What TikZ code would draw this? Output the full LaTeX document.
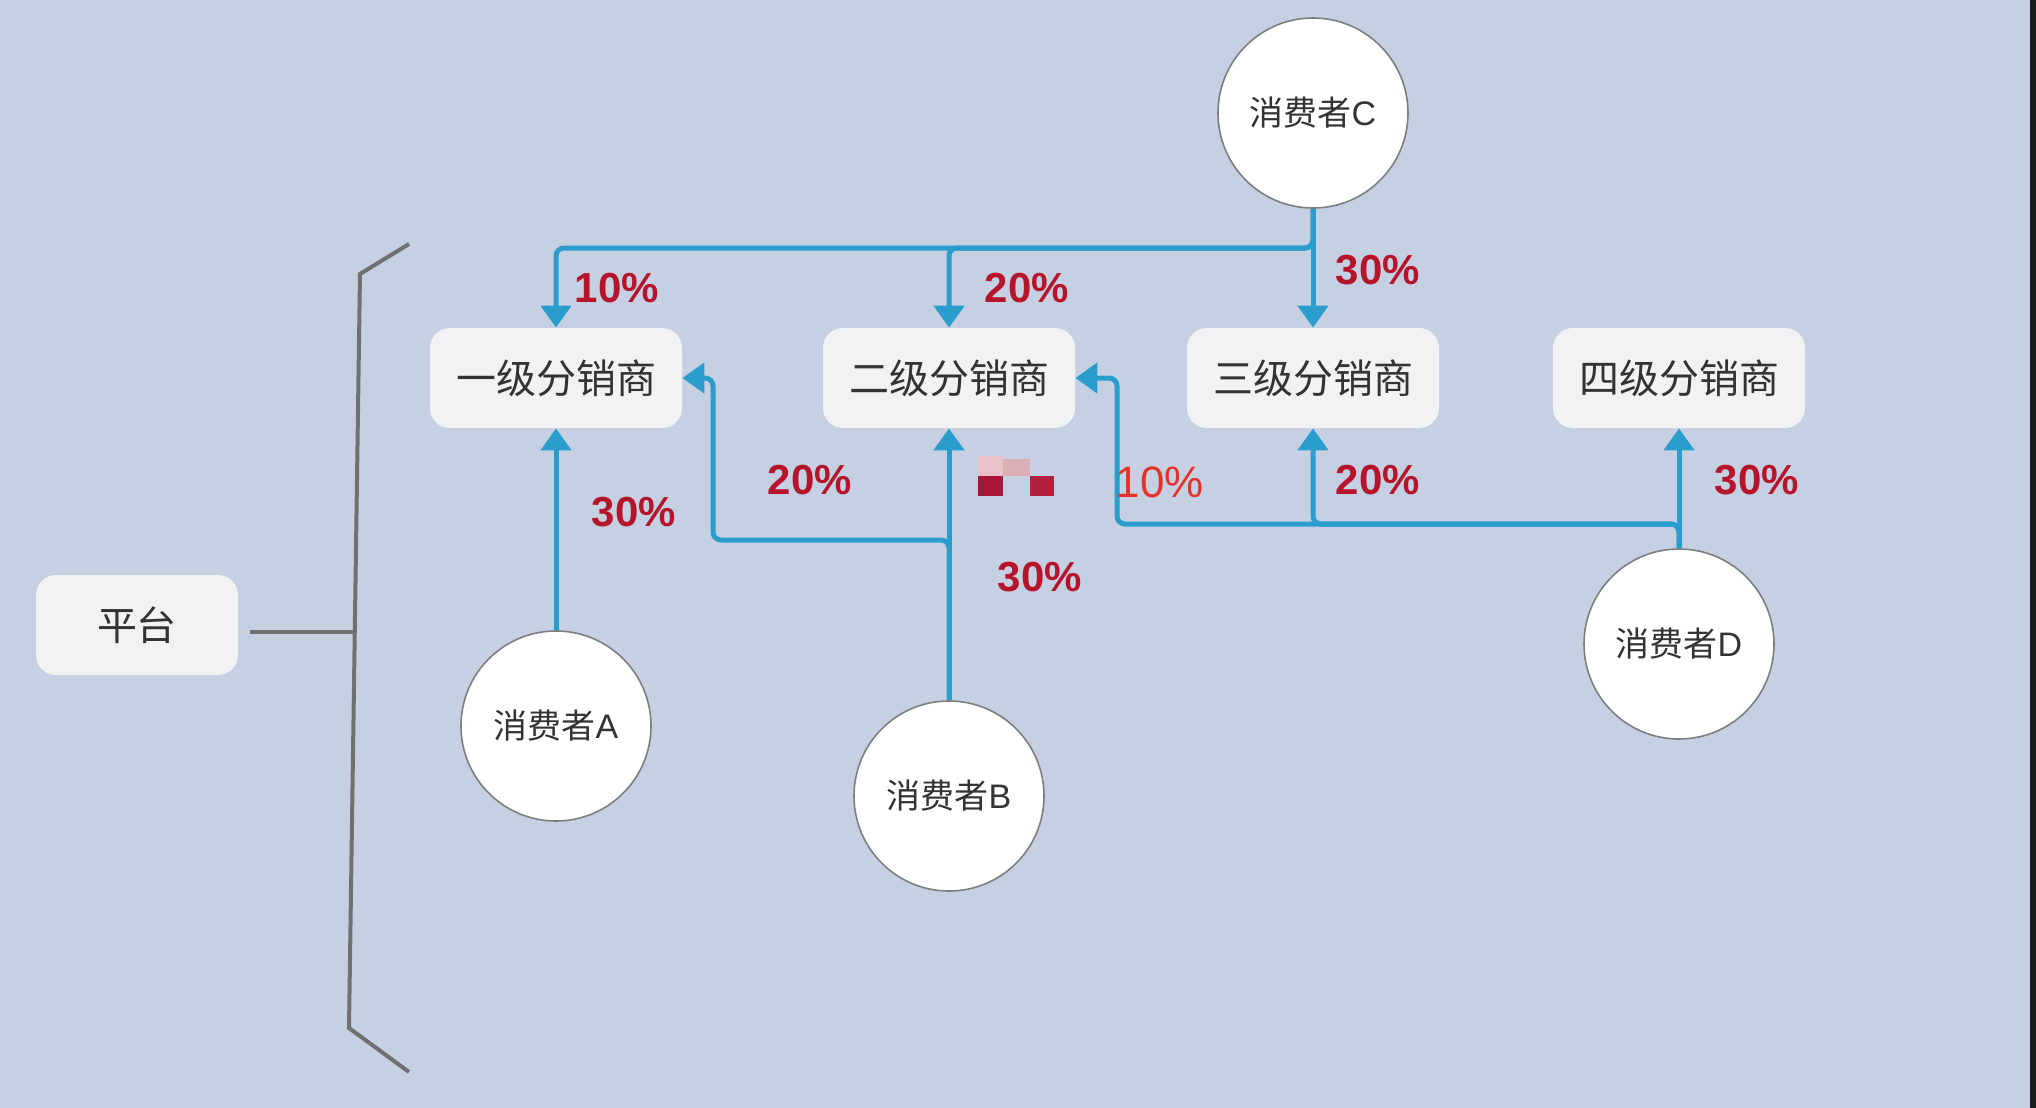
\documentclass[tikz,border=0pt]{standalone}
\usepackage{fontspec}
\setmainfont{Liberation Sans}
\newfontfamily\cjk{Noto Sans CJK SC}
\usetikzlibrary{arrows.meta,calc}
\definecolor{bg}{HTML}{C5D1E3}
\definecolor{boxfill}{HTML}{F2F2F4}
\definecolor{txt}{HTML}{333333}
\definecolor{conn}{HTML}{2A9DCC}
\definecolor{pct}{HTML}{B5142B}
\definecolor{pctb}{HTML}{E8302A}
\definecolor{brk}{HTML}{707070}
\definecolor{edge}{HTML}{1A1E1E}
\newcommand{\lat}[1]{{\rmfamily #1}}
\tikzset{
  level/.style={fill=boxfill, rounded corners=10pt, minimum width=126pt, minimum height=50pt, inner sep=0pt, font=\cjk\fontsize{20pt}{24pt}\selectfont, text=txt},
  consumer/.style={circle, fill=white, draw=brk!90, line width=0.8pt, minimum size=95pt, inner sep=0pt, font=\cjk\fontsize{17pt}{20pt}\selectfont, text=txt},
  flow/.style={draw=conn, line width=2.5pt, rounded corners=4pt, -{Triangle[width=15pt,length=11pt]}},
  pctlabel/.style={text=pct, font=\bfseries\fontsize{21pt}{24pt}\selectfont, inner sep=0pt},
  bracketline/.style={draw=brk, line width=2pt}
}
\begin{document}
\begin{tikzpicture}[x=0.5pt,y=-0.5pt]
\fill[bg] (0,0) rectangle (2036,1108);
\useasboundingbox (0,0) rectangle (2036,1108);
\fill[edge] (2030,0) rectangle (2036,1108);

% platform and bracket
\node[level, minimum width=101pt] (P) at (137,625) {平台};
\coordinate (pl) at (250,632);
\coordinate (pr) at (355,632);
\draw[bracketline] (pl) -- (pr);
\coordinate (b1) at (409,244);
\coordinate (b2) at (360,274);
\coordinate (b3) at (349,1028);
\coordinate (b4) at (409,1072);
\draw[bracketline] (b1) -- (b2) -- (b3) -- (b4);

% distributor levels
\node[level] (L1) at (556,378) {一级分销商};
\node[level] (L2) at (949,378) {二级分销商};
\node[level] (L3) at (1313,378) {三级分销商};
\node[level] (L4) at (1679,378) {四级分销商};

% consumers
\node[consumer] (C) at (1313,113) {消费者\lat{C}};
\node[consumer] (A) at (556,726) {消费者\lat{A}};
\node[consumer] (B) at (949,796) {消费者\lat{B}};
\node[consumer] (D) at (1679,644) {消费者\lat{D}};

% helper coordinates
\coordinate (cy) at (1313,248);
\coordinate (by) at (949,540);
\coordinate (bx) at (713,540);
\coordinate (dy) at (1679,524);
\coordinate (dx) at (1117,524);

% consumer C flows
\draw[flow] (C) -- (L3);
\draw[flow] (C.south) -- (cy) -| (L2.north);
\draw[flow] (C.south) -- (cy) -| (L1.north);

% consumer A
\draw[flow] (A) -- (L1);

% consumer B
\draw[flow] (B) -- (L2);
\draw[flow] (B.north) -- (by) -- (bx) |- (L1.east);

% consumer D
\draw[flow] (D) -- (L4);
\draw[flow] (D.north) -- (dy) -| (L3.south);
\draw[flow] (D.north) -- (dy) -- (dx) |- (L2.east);

% percentage labels
\node[pctlabel] (p1) at (617,288) {10\%};
\node[pctlabel] (p2) at (1027,288) {20\%};
\node[pctlabel] (p3) at (1378,270) {30\%};
\node[pctlabel] (p4) at (634,512) {30\%};
\node[pctlabel] (p5) at (810,480) {20\%};
\node[pctlabel] (p6) at (1040,577) {30\%};
\node[text=pctb, font=\fontsize{22pt}{26pt}\selectfont, inner sep=0pt] (p7) at (1160,482) {10\%};
\node[pctlabel] (p8) at (1378,480) {20\%};
\node[pctlabel] (p9) at (1757,480) {30\%};

% pixelated mosaic
\fill[fill={rgb,255:red,232;green,194;blue,200}] (978,456) rectangle (1003,476);
\fill[fill={rgb,255:red,217;green,174;blue,180}] (1003,459) rectangle (1030,476);
\fill[fill={rgb,255:red,168;green,23;blue,58}] (978,476) rectangle (1003,496);
\fill[fill={rgb,255:red,178;green,32;blue,64}] (1030,476) rectangle (1054,496);
\end{tikzpicture}
\end{document}
